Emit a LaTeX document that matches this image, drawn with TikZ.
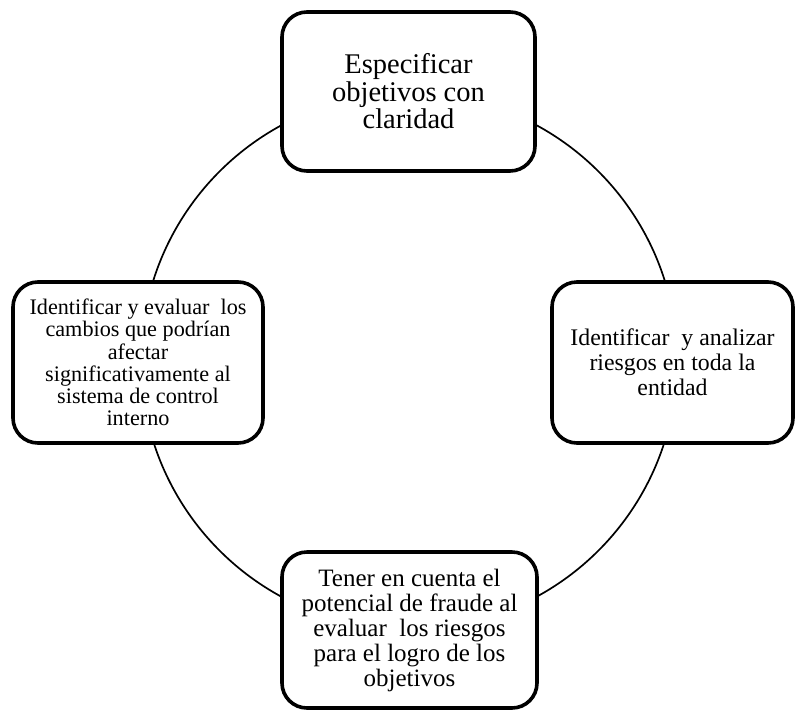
\documentclass[tikz,border=0pt]{standalone}
\usepackage{fontspec}
\setmainfont{Liberation Serif}
\begin{document}
\begin{tikzpicture}[x=1pt,y=-1pt,
  stagebox/.style={draw=black, line width=3.6pt, rounded corners=25pt, fill=white,
    align=center, inner sep=4pt},
  ring/.style={draw=black, line width=1.7pt}]
\useasboundingbox (0,0) rectangle (795,710);
\coordinate (c) at (409,361);
\draw[ring] (c) circle (268pt);
\node[stagebox, minimum width=253pt, minimum height=159pt,
  font=\fontsize{28.5}{27.5}\selectfont] (top) at (408.5,91.5)
  {Especificar\\objetivos con\\claridad};
\node[stagebox, minimum width=241pt, minimum height=161pt,
  font=\fontsize{23.8}{25}\selectfont] (right) at (672.5,362.5)
  {Identificar\ \ y analizar\\riesgos en toda la\\entidad};
\node[stagebox, minimum width=255pt, minimum height=156pt,
  font=\fontsize{25}{25}\selectfont] (bottom) at (409.5,630)
  {Tener en cuenta el\\potencial de fraude al\\evaluar\ \ los riesgos\\para el logro de los\\objetivos};
\node[stagebox, minimum width=250pt, minimum height=161pt,
  font=\fontsize{22.2}{22.3}\selectfont] (left) at (138,362.5)
  {Identificar y evaluar\ \ los\\cambios que podrían\\afectar\\significativamente al\\sistema de control\\interno};
\end{tikzpicture}
\end{document}
